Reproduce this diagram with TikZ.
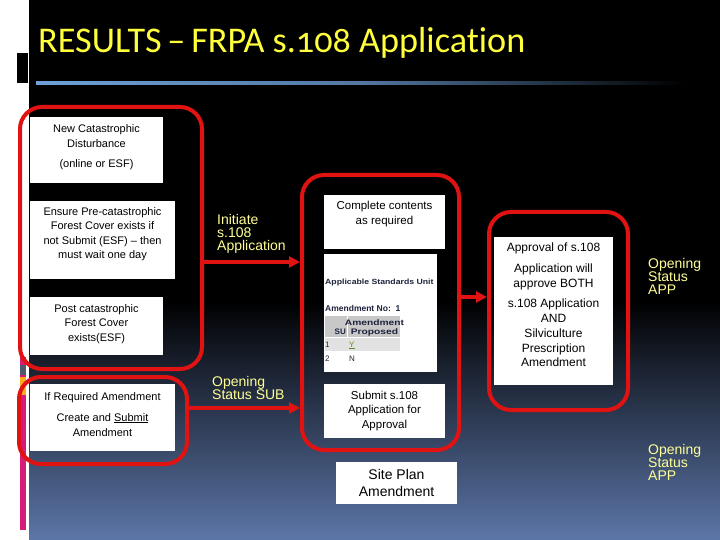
\documentclass[tikz,border=0pt]{standalone}
\usepackage{fontspec}
\setmainfont{Liberation Sans}
\newfontfamily\titlefont[Numbers=OldStyle,Ligatures=NoCommon]{Carlito}
\usetikzlibrary{arrows.meta}
\definecolor{gred}{RGB}{225,18,18}
\definecolor{ylab}{RGB}{255,255,150}
\definecolor{ytitle}{RGB}{255,255,60}
\definecolor{bgblue}{RGB}{92,118,168}
\definecolor{lineblue}{RGB}{110,160,215}
\definecolor{stripk}{RGB}{214,28,120}
\definecolor{stripg}{RGB}{80,90,110}
\definecolor{stripo}{RGB}{250,170,30}
\definecolor{shotnavy}{RGB}{30,35,60}
\definecolor{hdrgray}{RGB}{200,200,200}
\definecolor{rowgray}{RGB}{226,226,226}
\definecolor{ygreen}{RGB}{90,140,40}
\tikzset{
  grp/.style={draw=gred, line width=4pt, rounded corners=22pt, inner sep=0pt, anchor=north west},
  wbox/.style={fill=white, inner sep=0pt, anchor=north west},
  btxt/.style={inner sep=0pt, align=center, anchor=north, text=black},
  lab/.style={text=ylab, inner sep=0pt, align=left, anchor=north west, font=\fontsize{14}{13}\selectfont},
  arr/.style={draw=gred, line width=4pt, -{Triangle[length=11pt,width=11pt]}},
  shot/.style={inner sep=0pt, anchor=base west, text=shotnavy}
}
\begin{document}
\begin{tikzpicture}[x=1pt,y=-1pt]
\useasboundingbox (0,0) rectangle (720,540);
% background
\fill[white] (0,0) rectangle (720,540);
\fill[black] (29,0) rectangle (720,300);
\shade[top color=black, bottom color=bgblue] (29,300) rectangle (720,540);
% left strip decorations
\fill[black] (17,53) rectangle (28,83);
\fill[stripk] (20,357) rectangle (26,530);
\fill[stripg] (20,365) rectangle (26,375);
\fill[stripo] (20,377) rectangle (26,395);
% title and rule
\node[anchor=base west, inner sep=0pt, text=ytitle, font=\titlefont\fontsize{36.2}{37}\selectfont] (title) at (38,53) {RESULTS\hspace{0.16em}–\hspace{0.16em}FRPA s.108 Application};
\shade[left color=lineblue, right color=black, middle color=lineblue!75!black] (36,82) rectangle (685,85);

% groups
\node[grp, minimum width=182pt, minimum height=262pt] (g1) at (18,105) {};
\node[grp, minimum width=168pt, minimum height=87pt] (g2) at (17,375) {};
\node[grp, minimum width=157pt, minimum height=275pt] (mid) at (300,173) {};
\node[grp, minimum width=139pt, minimum height=198pt] (rg) at (487,210) {};

% left boxes
\node[wbox, minimum width=133pt, minimum height=66pt] (b1) at (30,117) {};
\node[btxt, font=\fontsize{11}{15}\selectfont] (t1) at (96.5,124) {New Catastrophic\\Disturbance\\[5pt](online or ESF)};
\node[wbox, minimum width=145pt, minimum height=78pt] (b2) at (30,201) {};
\node[btxt, font=\fontsize{11}{14.5}\selectfont] (t2) at (102.5,207) {Ensure Pre-catastrophic\\Forest Cover exists if\\not Submit (ESF) – then\\must wait one day};
\node[wbox, minimum width=133pt, minimum height=58pt] (b3) at (30,297) {};
\node[btxt, font=\fontsize{11}{14.5}\selectfont] (t3) at (96.5,304) {Post catastrophic\\Forest Cover\\exists(ESF)};
\node[wbox, minimum width=145pt, minimum height=67pt] (b4) at (30,384) {};
\node[btxt, font=\fontsize{11}{15}\selectfont] (t4) at (102.5,392) {If Required Amendment\\[6pt]Create and \underline{Submit}\\Amendment};

% middle boxes
\node[wbox, minimum width=121pt, minimum height=54pt] (c1) at (324,195) {};
\node[btxt, font=\fontsize{11.5}{15}\selectfont] (tc1) at (384.5,200.5) {Complete contents\\as required};
\node[wbox, minimum width=113pt, minimum height=118pt] (shotbox) at (324,254) {};
\node[shot, font=\bfseries\fontsize{7.5}{8}\selectfont] (asu) at (325,284) {\scalebox{1.16}[1]{Applicable Standards Unit}};
\node[shot, font=\bfseries\fontsize{8.5}{9}\selectfont] (amno) at (325,311) {Amendment No:\ \ 1};
\fill[hdrgray] (325,316) rectangle (347,337);
\fill[hdrgray] (348,316) rectangle (400,337);
\fill[rowgray] (325,338) rectangle (400,351);
\node[shot, anchor=base, font=\bfseries\fontsize{8}{9}\selectfont] (hamd) at (374.5,325) {\scalebox{1.28}[1]{Amendment}};
\node[shot, anchor=base, font=\bfseries\fontsize{8}{9}\selectfont] (hprop) at (374.5,334) {\scalebox{1.28}[1]{Proposed}};
\node[shot, anchor=base east, font=\bfseries\fontsize{8}{9}\selectfont] (hsu) at (346,334) {SU};
\node[shot, font=\fontsize{8}{8}\selectfont] (r1a) at (325,347) {1};
\node[shot, text=ygreen, font=\fontsize{8}{8}\selectfont] (r1b) at (349,347) {\underline{Y}};
\node[shot, font=\fontsize{8}{8}\selectfont] (r2a) at (325,361) {2};
\node[shot, font=\fontsize{8}{8}\selectfont] (r2b) at (349,361) {N};
\node[wbox, minimum width=121pt, minimum height=54pt] (c3) at (324,384) {};
\node[btxt, font=\fontsize{11.5}{14.5}\selectfont] (tc3) at (384.5,390.5) {Submit s.108\\Application for\\Approval};

% right box
\node[wbox, minimum width=119pt, minimum height=148pt] (r1) at (494,237) {};
\node[btxt, font=\fontsize{12}{14.7}\selectfont] (tr1) at (553.5,243) {Approval of s.108\\[6pt]Application will\\approve BOTH\\[6pt]s.108 Application\\AND\\Silviculture\\Prescription\\Amendment};

% site plan
\node[wbox, minimum width=121pt, minimum height=42pt] (sp) at (336,462) {};
\node[btxt, font=\fontsize{14}{17}\selectfont] (tsp) at (396.5,469) {Site Plan\\Amendment};

% connectors
\coordinate (ya) at (0,262);
\coordinate (yb) at (0,408);
\coordinate (yc) at (0,297);
\draw[arr] (g1.east |- ya) -- (mid.west |- ya);
\draw[arr] (g2.east |- yb) -- (mid.west |- yb);
\draw[arr] (mid.east |- yc) -- (rg.west |- yc);

% labels
\node[lab] (l1) at (217,214) {Initiate\\s.108\\Application};
\node[lab] (l2) at (212,376) {Opening\\Status SUB};
\node[lab] (l3) at (648,258.5) {Opening\\Status\\APP};
\node[lab] (l4) at (648,444.5) {Opening\\Status\\APP};
\end{tikzpicture}
\end{document}
